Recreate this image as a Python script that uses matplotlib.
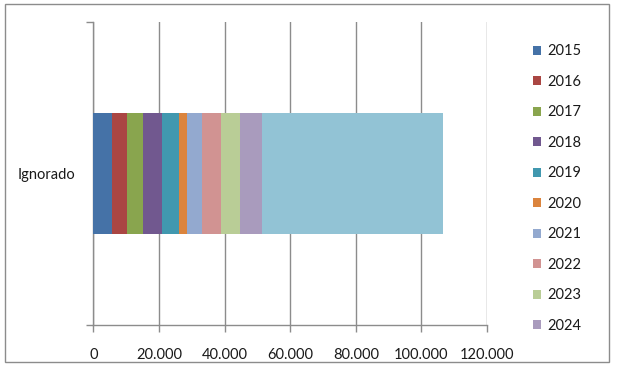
import matplotlib
matplotlib.use("Agg")
import matplotlib.pyplot as plt
from matplotlib.patches import Rectangle

plt.rcParams['font.family'] = ['Lato', 'DejaVu Sans']

categories = ["Ignorado"]
series_names = ["2015", "2016", "2017", "2018", "2019", "2020",
                "2021", "2022", "2023", "2024", "2025"]
values = [5690, 4660, 4780, 5780, 5080, 2440, 4750, 5600, 5880, 6610, 55280]
colors = ["#4572A7", "#AA4643", "#89A54E", "#71588F", "#4198AF", "#DB843D",
          "#93A9CF", "#D19392", "#B9CD96", "#A99BBD", "#92C3D5"]
legend_count = 10
xticks = [0, 20000, 40000, 60000, 80000, 100000, 120000]
xtick_labels = ["0", "20.000", "40.000", "60.000", "80.000", "100.000", "120.000"]

fig = plt.figure(figsize=(6.17, 3.68), dpi=100)
ax = fig.add_axes([0.1512, 0.1182, 0.7893 - 0.1512, 0.9402 - 0.1182])

handles = []
left = 0
for name, v, c in zip(series_names, values, colors):
    h = ax.barh(categories, [v], left=[left], height=0.40, color=c, label=name, zorder=3)
    handles.append(h)
    left += v

ax.set_xlim(0, 120000)
ax.set_ylim(-0.5, 0.5)
ax.set_xticks(xticks)
ax.set_xticklabels(xtick_labels)
ax.xaxis.grid(True, color="#8C8C8C", linewidth=1.0, zorder=0)
for s in ["top", "right"]:
    ax.spines[s].set_visible(False)
for s in ["left", "bottom"]:
    ax.spines[s].set_color("#8C8C8C")
    ax.spines[s].set_linewidth(1.0)
ax.tick_params(axis="x", length=5, width=1.0, color="#8C8C8C", labelsize=10.5,
               pad=12, labelcolor="#1a1a1a")
ax.set_yticks([-0.5, 0.5], minor=True)
ax.tick_params(axis="y", which="minor", length=5, width=1.0, color="#8C8C8C")
ax.tick_params(axis="y", which="major", length=0, labelsize=10.5, pad=13,
               labelcolor="#1a1a1a")

ax.legend(handles=handles[:legend_count], loc="upper left",
          bbox_to_anchor=(0.855, 0.895), bbox_transform=fig.transFigure,
          frameon=False, fontsize=10.5, handlelength=0.55, handleheight=0.55,
          handletextpad=0.4, labelspacing=1.13, borderaxespad=0,
          labelcolor="#1a1a1a")

fig.patches.append(Rectangle((5 / 617, 1 - 362 / 368), 604 / 617, 358 / 368,
                             transform=fig.transFigure, fill=False,
                             edgecolor="#8C8C8C", linewidth=1.0))

fig.savefig("out.png", dpi=100)
